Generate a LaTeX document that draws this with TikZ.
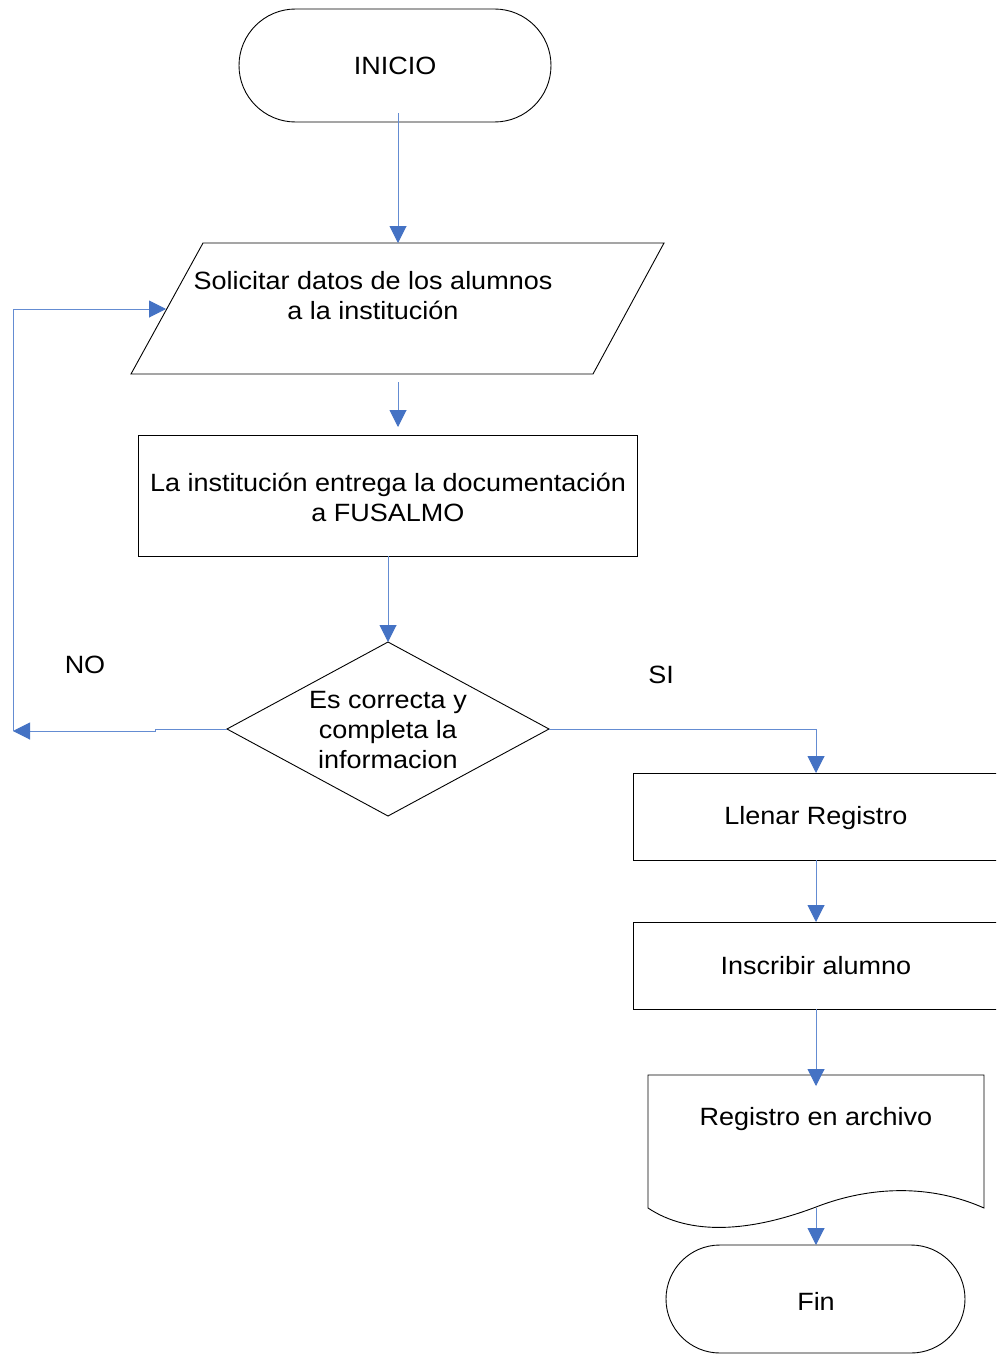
\documentclass[tikz,border=0pt]{standalone}
\usepackage{fontspec}
\setmainfont{Liberation Sans}[FakeStretch=1.08]
\usetikzlibrary{arrows.meta}
\definecolor{conn}{RGB}{68,114,196}
\definecolor{connline}{RGB}{100,140,210}
\tikzset{
  shapeline/.style={draw=black, line width=0.9pt},
  conline/.style={draw=connline, line width=1pt, -{Triangle[length=17pt,width=17pt,fill=conn,color=conn]}},
  txt/.style={font=\fontsize{25}{30}\selectfont, align=center, inner sep=0pt, text=black, yshift=-2pt},
}
\begin{document}
\begin{tikzpicture}[x=1pt,y=-1pt]
\useasboundingbox (0,0) rectangle (996,1354);
\clip (0,0) rectangle (996,1354);
\fill[white] (0,0) rectangle (996,1354);

% INICIO terminal
\draw[shapeline, rounded corners=56.5pt] (239,9) rectangle (551,122);
\node[txt] (inicio) at (395,64) {INICIO};
\coordinate (inicioB) at (398,113);

% parallelogram
\draw[shapeline] (203,243) -- (664,243) -- (593,374) -- (131,374) -- cycle;
\node[txt] (solicitar) at (373,293.5) {Solicitar datos de los alumnos\\a la institución};
\coordinate (parT) at (398,243);
\coordinate (parB) at (398,382);
\coordinate (parL) at (166,309);

% rectangle
\draw[shapeline] (138,435) rectangle (637,556);
\node[txt] (entrega) at (388,495) {La institución entrega la documentación\\a FUSALMO};
\coordinate (entT) at (398,427);
\coordinate (entB) at (388,556);

% diamond
\draw[shapeline] (388,642) -- (549,729) -- (388,816) -- (227,729) -- cycle;
\node[txt] (decision) at (388,728) {Es correcta y\\completa la\\informacion};
\coordinate (dT) at (388,642);
\coordinate (dL) at (227,729);
\coordinate (dR) at (549,729);
\coordinate (noA) at (155,729);
\coordinate (noB) at (155,731);
\coordinate (noC) at (13,731);
\coordinate (noD) at (13,309);
\coordinate (siA) at (816,729);

\node[txt] (no) at (85,663) {NO};
\node[txt] (si) at (661,673) {SI};

% Llenar Registro
\draw[shapeline] (633,773) rectangle (999,860);
\node[txt] (llenar) at (816,816) {Llenar Registro};
\coordinate (llT) at (816,773);
\coordinate (llB) at (816,860);

% Inscribir alumno
\draw[shapeline] (633,922) rectangle (999,1009);
\node[txt] (inscribir) at (816,964) {Inscribir alumno};
\coordinate (inT) at (816,922);
\coordinate (inB) at (816,1009);

% document
\draw[shapeline] (648,1075) -- (984,1075) -- (984,1208)
  .. controls (930,1184) and (870,1186) .. (816,1207)
  .. controls (750,1232) and (690,1236) .. (648,1208) -- cycle;
\node[txt] (registro) at (816,1117) {Registro en archivo};
\coordinate (docT) at (816,1086);
\coordinate (docB) at (816,1208);

% Fin terminal
\draw[shapeline, rounded corners=54pt] (666,1245) rectangle (965,1353);
\node[txt] (fin) at (816,1299) {Fin};
\coordinate (finT) at (816,1245);

% connectors
\draw[conline] (inicioB) -- (parT);
\draw[conline] (parB) -- (entT);
\draw[conline] (entB) -- (dT);
\draw[conline] (dL) -- (noA) -- (noB) -- (noC);
\draw[conline] (noC) -- (noD) -- (parL);
\draw[conline] (dR) -- (siA) -- (llT);
\draw[conline] (llB) -- (inT);
\draw[conline] (inB) -- (docT);
\draw[conline] (docB) -- (finT);
\end{tikzpicture}
\end{document}
